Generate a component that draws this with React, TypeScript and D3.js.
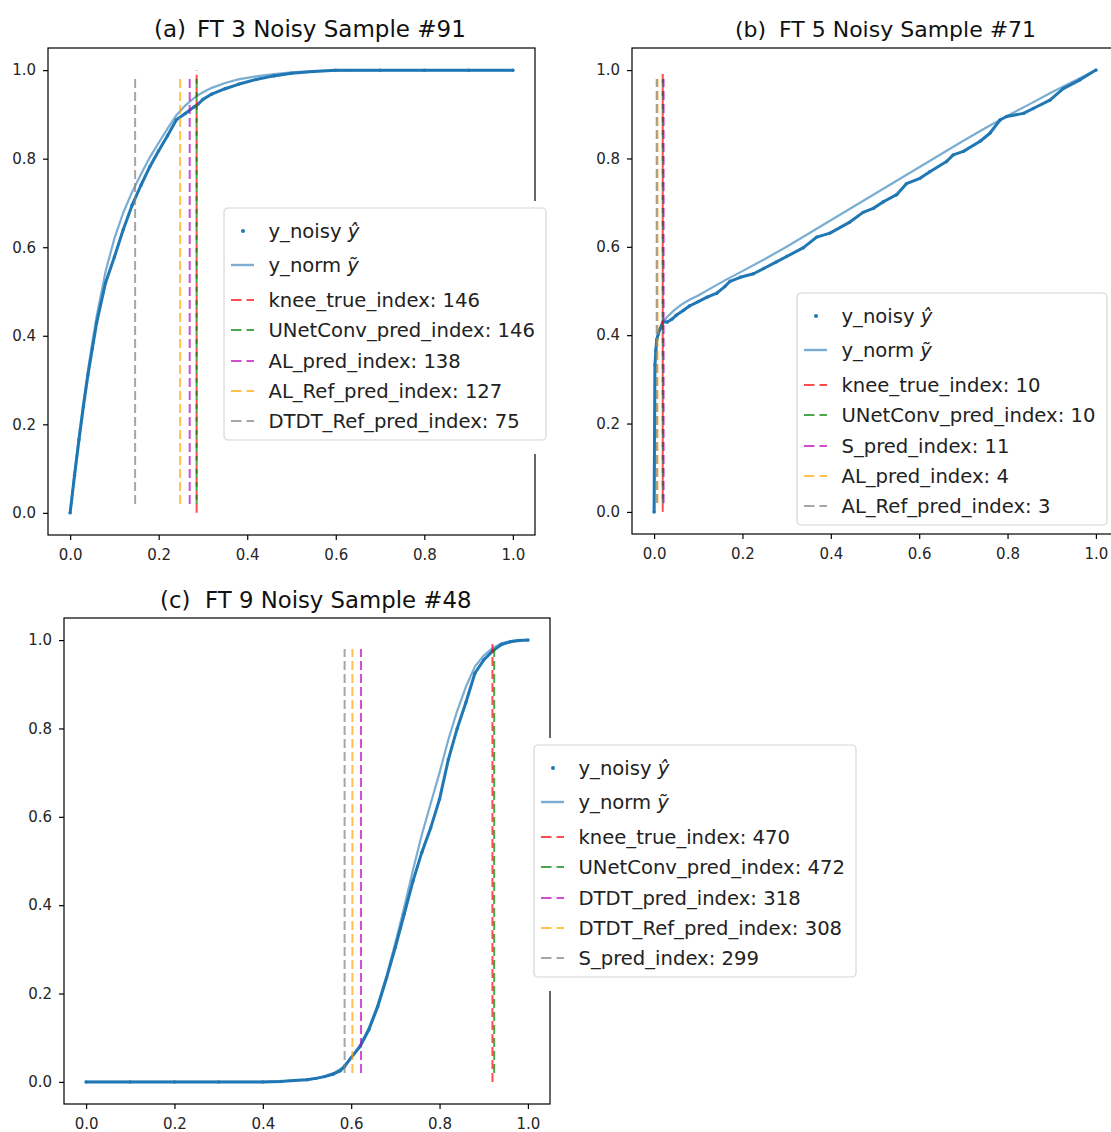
import React, { useEffect, useRef } from 'react';
import * as d3 from 'd3';

// number of samples in each curve, knee indices map to x = idx / (N - 1)
const N_POINTS = 512;

// ---- panel (a) FT 3 Noisy Sample #91 ----
const gridA = [0, 0.01, 0.02, 0.03, 0.04, 0.05, 0.06, 0.08, 0.10, 0.12, 0.14, 0.16, 0.18, 0.20, 0.22, 0.24, 0.26, 0.28, 0.29, 0.30, 0.32, 0.35, 0.38, 0.42, 0.46, 0.50, 0.55, 0.60, 0.70, 0.80, 0.90, 1.00];
const normA = [0, 0.09, 0.175, 0.25, 0.32, 0.385, 0.445, 0.545, 0.62, 0.678, 0.725, 0.765, 0.803, 0.836, 0.868, 0.898, 0.92, 0.937, 0.944, 0.95, 0.96, 0.971, 0.979, 0.986, 0.991, 0.995, 0.998, 0.999, 1, 1, 1, 1];
const noisyA = [0, 0.085, 0.165, 0.24, 0.31, 0.37, 0.43, 0.52, 0.578, 0.64, 0.695, 0.74, 0.782, 0.818, 0.852, 0.888, 0.902, 0.917, 0.924, 0.934, 0.946, 0.958, 0.968, 0.979, 0.987, 0.993, 0.997, 1, 1, 1, 1, 1];
const labelsA = ['knee_true_index', 'UNetConv_pred_index', 'AL_pred_index', 'AL_Ref_pred_index', 'DTDT_Ref_pred_index'];
const indicesA = [146, 146, 138, 127, 75];

// ---- panel (b) FT 5 Noisy Sample #71 ----
const normBx = [0, 0.002, 0.004, 0.008, 0.012, 0.02, 0.03, 0.045, 0.06, 0.08, 0.10, 0.13, 0.16, 0.20, 0.25, 0.30, 0.35, 0.40, 0.45, 0.50, 0.55, 0.60, 0.65, 0.70, 0.75, 0.80, 0.85, 0.90, 0.95, 1.0];
const normBy = [0, 0.335, 0.37, 0.395, 0.41, 0.428, 0.442, 0.456, 0.468, 0.48, 0.49, 0.507, 0.524, 0.545, 0.572, 0.60, 0.63, 0.66, 0.69, 0.72, 0.75, 0.78, 0.81, 0.84, 0.869, 0.897, 0.923, 0.95, 0.975, 1.0];
const noisyBx = [0, 0.002, 0.004, 0.006, 0.01, 0.014, 0.02, 0.03, 0.04, 0.05, 0.066, 0.08, 0.10, 0.12, 0.142, 0.16, 0.172, 0.195, 0.225, 0.248, 0.277, 0.30, 0.338, 0.368, 0.398, 0.443, 0.473, 0.496, 0.519, 0.549, 0.571, 0.602, 0.624, 0.662, 0.677, 0.70, 0.738, 0.76, 0.783, 0.798, 0.836, 0.858, 0.896, 0.926, 0.964, 1.0];
const noisyBy = [0, 0.333, 0.365, 0.39, 0.405, 0.415, 0.43, 0.43, 0.436, 0.445, 0.456, 0.466, 0.476, 0.486, 0.495, 0.51, 0.522, 0.531, 0.539, 0.551, 0.566, 0.578, 0.598, 0.622, 0.631, 0.656, 0.678, 0.687, 0.702, 0.718, 0.743, 0.755, 0.77, 0.793, 0.808, 0.816, 0.839, 0.857, 0.887, 0.895, 0.902, 0.913, 0.932, 0.958, 0.978, 1.0];
const labelsB = ['knee_true_index', 'UNetConv_pred_index', 'S_pred_index', 'AL_pred_index', 'AL_Ref_pred_index'];
const indicesB = [10, 10, 11, 4, 3];

// ---- panel (c) FT 9 Noisy Sample #48 ----
const normCx = [0, 0.1, 0.2, 0.3, 0.4, 0.45, 0.5, 0.53, 0.56, 0.58, 0.60, 0.62, 0.64, 0.66, 0.68, 0.70, 0.72, 0.74, 0.76, 0.78, 0.80, 0.82, 0.84, 0.86, 0.88, 0.90, 0.92, 0.94, 0.96, 0.98, 1.0];
const normCy = [0, 0, 0, 0, 0, 0.002, 0.005, 0.01, 0.02, 0.032, 0.055, 0.083, 0.122, 0.175, 0.24, 0.315, 0.395, 0.48, 0.56, 0.63, 0.70, 0.775, 0.84, 0.895, 0.94, 0.965, 0.982, 0.993, 0.998, 1.0, 1.0];
const noisyCx = [0, 0.1, 0.2, 0.3, 0.4, 0.44, 0.47, 0.5, 0.52, 0.54, 0.56, 0.575, 0.585, 0.60, 0.62, 0.64, 0.66, 0.68, 0.70, 0.72, 0.74, 0.76, 0.78, 0.80, 0.82, 0.84, 0.86, 0.88, 0.90, 0.92, 0.94, 0.96, 0.98, 1.0];
const noisyCy = [0, 0, 0, 0, 0, 0.001, 0.003, 0.005, 0.008, 0.012, 0.018, 0.025, 0.035, 0.055, 0.08, 0.118, 0.17, 0.235, 0.305, 0.38, 0.455, 0.52, 0.575, 0.64, 0.73, 0.80, 0.86, 0.925, 0.955, 0.975, 0.99, 0.996, 0.999, 1.0];
const labelsC = ['knee_true_index', 'UNetConv_pred_index', 'DTDT_pred_index', 'DTDT_Ref_pred_index', 'S_pred_index'];
const indicesC = [470, 472, 318, 308, 299];

const yTicks = [0, 0.2, 0.4, 0.6, 0.8, 1.0];
const xTicks = [0, 0.2, 0.4, 0.6, 0.8, 1.0];

// line colours in legend order (alpha applied when drawing)
const markColors = ['#ff0000', '#008000', '#bf00bf', '#ffa500', '#808080'];

const FONT = '"DejaVu Sans", "Liberation Sans", sans-serif';
const BLUE = '#1f77b4';

const panels = [
  {
    tag: '(a)', title: 'FT 3 Noisy Sample #91', tagX: 154, titleX: 197, titleY: 37, titleSize: 23,
    box: { l: 48, r: 535, t: 48, b: 535 },
    normX: gridA, normY: normA, noisyX: gridA, noisyY: noisyA,
    labels: labelsA, indices: indicesA,
    legend: { x: 224, y: 208, w: 322 }, mask: true,
  },
  {
    tag: '(b)', title: 'FT 5 Noisy Sample #71', tagX: 735, titleX: 779, titleY: 37, titleSize: 22,
    box: { l: 632, r: 1118, t: 48, b: 534 },
    normX: normBx, normY: normBy, noisyX: noisyBx, noisyY: noisyBy,
    labels: labelsB, indices: indicesB,
    legend: { x: 797, y: 293, w: 310 }, mask: false,
  },
  {
    tag: '(c)', title: 'FT 9 Noisy Sample #48', tagX: 160, titleX: 205, titleY: 607.5, titleSize: 22.8,
    box: { l: 64, r: 550, t: 618, b: 1104 },
    normX: normCx, normY: normCy, noisyX: noisyCx, noisyY: noisyCy,
    labels: labelsC, indices: indicesC,
    legend: { x: 534, y: 745, w: 322 }, mask: true,
  },
];

const LEGEND_ROWS = [23, 57, 92, 122, 153, 183, 213];
const LEGEND_H = 232;

const App = () => {
  const ref = useRef<SVGSVGElement>(null);

  useEffect(() => {
    const svg = d3.select(ref.current);
    svg.selectAll('*').remove();

    panels.forEach(p => {
      const x = d3.scaleLinear().domain([-0.05, 1.05]).range([p.box.l, p.box.r]);
      const y = d3.scaleLinear().domain([-0.05, 1.05]).range([p.box.b, p.box.t]);
      const g = svg.append('g');

      const line = d3.line<[number, number]>().x(d => x(d[0])).y(d => y(d[1]));

      // y_noisy (dense scatter, drawn as thick trace + dots)
      const noisy = d3.zip(p.noisyX, p.noisyY) as [number, number][];
      g.append('path')
        .datum(noisy)
        .attr('d', line)
        .attr('fill', 'none')
        .attr('stroke', BLUE)
        .attr('stroke-width', 3)
        .attr('stroke-linejoin', 'round')
        .attr('stroke-linecap', 'round');
      g.append('g').selectAll('circle')
        .data(noisy)
        .join('circle')
        .attr('cx', d => x(d[0]))
        .attr('cy', d => y(d[1]))
        .attr('r', 1.7)
        .attr('fill', BLUE);

      // y_norm
      g.append('path')
        .datum(d3.zip(p.normX, p.normY) as [number, number][])
        .attr('d', line)
        .attr('fill', 'none')
        .attr('stroke', BLUE)
        .attr('stroke-opacity', 0.6)
        .attr('stroke-width', 2.2);

      // knee lines
      p.indices.forEach((idx, i) => {
        const xv = idx / (N_POINTS - 1);
        const y0 = i === 0 ? 0 : 0.02;
        const y1 = i === 0 ? 1 : 0.98;
        g.append('line')
          .attr('x1', x(xv)).attr('x2', x(xv))
          .attr('y1', y(y0)).attr('y2', y(y1))
          .attr('stroke', markColors[i])
          .attr('stroke-opacity', 0.7)
          .attr('stroke-width', 2)
          .attr('stroke-dasharray', '9,4');
      });

      // spines
      g.append('rect')
        .attr('x', p.box.l).attr('y', p.box.t)
        .attr('width', p.box.r - p.box.l).attr('height', p.box.b - p.box.t)
        .attr('fill', 'none').attr('stroke', '#000').attr('stroke-width', 1.2);

      // axes
      const ay = g.append('g')
        .attr('transform', `translate(${p.box.l},0)`)
        .call(d3.axisLeft(y).tickValues(yTicks).tickFormat(d3.format('.1f')).tickSize(5).tickPadding(7));
      const ax = g.append('g')
        .attr('transform', `translate(0,${p.box.b})`)
        .call(d3.axisBottom(x).tickValues(xTicks).tickFormat(d3.format('.1f')).tickSize(5).tickPadding(9));
      [ax, ay].forEach(a => {
        a.select('.domain').remove();
        a.selectAll('line').attr('stroke', '#000').attr('stroke-width', 1.2);
        a.selectAll('text').attr('font-family', FONT).attr('font-size', 15).attr('fill', '#262626');
      });

      // titles
      g.append('text')
        .attr('x', p.tagX).attr('y', p.titleY)
        .attr('font-family', FONT).attr('font-size', p.titleSize).attr('fill', '#111')
        .text(p.tag);
      g.append('text')
        .attr('x', p.titleX).attr('y', p.titleY)
        .attr('font-family', FONT).attr('font-size', p.titleSize).attr('fill', '#111')
        .text(p.title);

      // legend
      const L = p.legend;
      if (p.mask) {
        g.append('rect')
          .attr('x', p.box.r - 2).attr('y', L.y - 7)
          .attr('width', 4).attr('height', LEGEND_H + 21)
          .attr('fill', '#fff');
      }
      const lg = g.append('g').attr('transform', `translate(${L.x},${L.y})`);
      lg.append('rect')
        .attr('width', L.w).attr('height', LEGEND_H)
        .attr('rx', 4)
        .attr('fill', '#fff').attr('fill-opacity', 0.85)
        .attr('stroke', '#d6d6d6').attr('stroke-width', 1.2);

      const textX = 44.5;
      const addText = (row: number, main: string, math?: string) => {
        const t = lg.append('text')
          .attr('x', textX).attr('y', LEGEND_ROWS[row] + 7)
          .attr('font-family', FONT).attr('font-size', 19.6).attr('fill', '#222');
        t.append('tspan').text(main);
        if (math) t.append('tspan').attr('font-style', 'italic').text(math);
      };

      // y_noisy handle
      lg.append('circle').attr('cx', 19).attr('cy', LEGEND_ROWS[0]).attr('r', 2).attr('fill', BLUE);
      addText(0, 'y_noisy ', '\u0177');
      // y_norm handle
      lg.append('line')
        .attr('x1', 7).attr('x2', 30).attr('y1', LEGEND_ROWS[1]).attr('y2', LEGEND_ROWS[1])
        .attr('stroke', BLUE).attr('stroke-opacity', 0.6).attr('stroke-width', 2.4);
      addText(1, 'y_norm ', '\u1EF9');

      p.labels.forEach((lab, i) => {
        const ry = LEGEND_ROWS[i + 2];
        lg.append('line')
          .attr('x1', 7).attr('x2', 30).attr('y1', ry).attr('y2', ry)
          .attr('stroke', markColors[i]).attr('stroke-opacity', 0.7)
          .attr('stroke-width', 2.2).attr('stroke-dasharray', '10.5,5');
        addText(i + 2, `${lab}: ${p.indices[i]}`);
      });
    });
  }, []);

  return (
    <div style={{ position: 'absolute', left: 0, top: 0, width: 1111, height: 1132, overflow: 'hidden', background: '#fff' }}>
      <svg ref={ref} width={1111} height={1132}></svg>
    </div>
  );
};

export default App;
